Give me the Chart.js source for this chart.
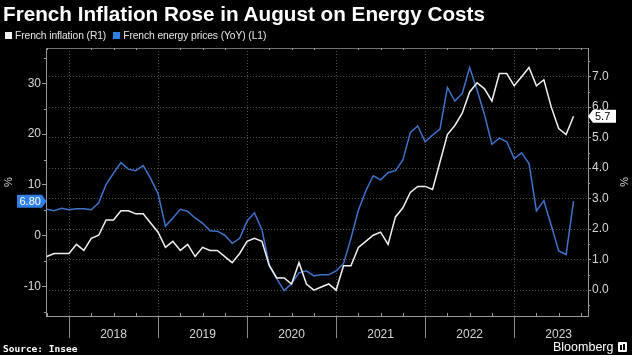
<!DOCTYPE html>
<html><head><meta charset="utf-8">
<script src="https://cdn.jsdelivr.net/npm/chart.js@4"></script>
<style>
html,body{margin:0;padding:0;background:#000;width:632px;height:355px;overflow:hidden;}
#wrap{position:relative;width:632px;height:355px;}
#c{position:absolute;left:0;top:0;}
#title{position:absolute;left:3px;top:2px;font:bold 20.7px "Liberation Sans",Arial,sans-serif;color:#fff;white-space:nowrap;}
#legend{position:absolute;left:5px;top:30px;font:10.3px "Liberation Sans",Arial,sans-serif;color:#e6e6e6;white-space:nowrap;letter-spacing:-0.1px;}
#legend span.it{margin-right:7px;}
.sw{display:inline-block;width:7px;height:7px;margin-right:3px;vertical-align:0px;}
#source{position:absolute;left:3px;top:343px;font:bold 9.5px "DejaVu Sans Mono",monospace;color:#fff;white-space:nowrap;}
#bbg{position:absolute;left:553px;top:340px;font:12.5px "Liberation Sans",Arial,sans-serif;color:#fff;white-space:nowrap;}
#ico{position:absolute;left:618px;top:342px;width:9px;height:10px;background:#fff;border-radius:1px;}
#ico i{position:absolute;left:2px;top:3px;width:2px;height:5px;background:#000;}
#ico b{position:absolute;left:5px;top:2px;width:2px;height:6px;background:#000;}
</style></head>
<body><div id="wrap">
<canvas id="c" width="632" height="355"></canvas>
<div id="title">French Inflation Rose in August on Energy Costs</div>
<div id="legend"><span class="it"><span class="sw" style="background:#f2f2f2"></span>French inflation (R1)</span><span class="it"><span class="sw" style="background:#2f7fe6"></span>French energy prices (YoY) (L1)</span></div>
<div id="source">Source: Insee</div>
<div id="bbg">Bloomberg</div>
<div id="ico"><i></i><b></b></div>
</div>
<script>
// Month-end observations, Sep 2017 .. Aug 2023
const months = [
 '2017-09','2017-10','2017-11','2017-12',
 '2018-01','2018-02','2018-03','2018-04','2018-05','2018-06','2018-07','2018-08','2018-09','2018-10','2018-11','2018-12',
 '2019-01','2019-02','2019-03','2019-04','2019-05','2019-06','2019-07','2019-08','2019-09','2019-10','2019-11','2019-12',
 '2020-01','2020-02','2020-03','2020-04','2020-05','2020-06','2020-07','2020-08','2020-09','2020-10','2020-11','2020-12',
 '2021-01','2021-02','2021-03','2021-04','2021-05','2021-06','2021-07','2021-08','2021-09','2021-10','2021-11','2021-12',
 '2022-01','2022-02','2022-03','2022-04','2022-05','2022-06','2022-07','2022-08','2022-09','2022-10','2022-11','2022-12',
 '2023-01','2023-02','2023-03','2023-04','2023-05','2023-06','2023-07','2023-08'
];
// French inflation, % YoY (right axis)
const inflation = [
 1.1,1.2,1.2,1.2,
 1.5,1.3,1.7,1.8,2.3,2.3,2.6,2.6,2.5,2.5,2.2,1.9,
 1.4,1.6,1.3,1.5,1.1,1.4,1.3,1.3,1.1,0.9,1.2,1.6,
 1.7,1.6,0.8,0.4,0.4,0.2,0.9,0.2,0.0,0.1,0.2,0.0,
 0.8,0.8,1.4,1.6,1.8,1.9,1.5,2.4,2.7,3.2,3.4,3.4,
 3.3,4.2,5.1,5.4,5.8,6.5,6.8,6.6,6.2,7.1,7.1,6.7,
 7.0,7.3,6.7,6.9,6.0,5.3,5.1,5.7
];
// French energy prices, % YoY (left axis)
const energy = [
 5.2,4.9,5.4,5.1,
 5.3,5.3,5.1,6.5,10.1,12.3,14.4,13.1,12.8,13.8,11.3,8.3,
 1.9,3.5,5.2,4.8,3.5,2.5,1.0,0.9,0.1,-1.5,-0.5,2.9,
 4.5,1.2,-5.8,-8.5,-10.8,-9.4,-7.3,-6.9,-7.9,-7.7,-7.7,-6.9,
 -5.5,-0.5,5.0,8.8,11.8,11.0,12.4,12.8,14.9,20.3,21.6,18.5,
 19.8,21.0,29.2,26.5,28.0,33.1,28.7,23.8,18.0,19.2,18.5,15.2,
 16.3,14.2,4.9,6.9,2.0,-3.0,-3.7,6.8
];
const yearLabels = ['2018','2019','2020','2021','2022','2023'];
const leftTicks = [-10,0,10,20,30];
const rightTicks = [0,1,2,3,4,5,6,7];

const boundaries = yearLabels.map(y => months.indexOf(y + '-01') - 1);
const mids = boundaries.map(b => b + 6);
const xTickVals = [];
boundaries.forEach((b,k) => { xTickVals.push(b); xTickVals.push(mids[k]); });
const isB = v => boundaries.indexOf(v) >= 0;

const FONT = 'Liberation Sans, Arial, sans-serif';
const TICKC = '#d6d6d6';
const AXC = '#9a9a9a';
const GRIDC = '#4d4d4d';
const CLEAR = 'rgba(0,0,0,0)';

const extras = {
  id: 'extras',
  beforeDatasetsDraw(chart) {
    const {ctx, chartArea: a, scales} = chart;
    ctx.save();
    ctx.strokeStyle = '#707070';
    ctx.lineWidth = 1;
    ctx.beginPath(); ctx.moveTo(a.left, a.top + 0.5); ctx.lineTo(a.right, a.top + 0.5); ctx.stroke();
    ctx.strokeStyle = AXC;
    ctx.beginPath();
    for (let v = -15; v <= 35; v += 10) {
      const y = Math.round(scales.yL.getPixelForValue(v)) + 0.5;
      ctx.moveTo(a.left - 2, y); ctx.lineTo(a.left, y);
    }
    for (let v = -0.5; v <= 7.5; v += 1) {
      const y = Math.round(scales.yR.getPixelForValue(v)) + 0.5;
      ctx.moveTo(a.right, y); ctx.lineTo(a.right + 2, y);
    }
    for (let q = boundaries[0] - 3; q <= months.length; q += 3) {
      if (isB(q)) continue;
      const x = Math.round(scales.x.getPixelForValue(q)) + 0.5;
      if (x < a.left || x > a.right) continue;
      ctx.moveTo(x, a.bottom); ctx.lineTo(x, a.bottom - 3);
      ctx.moveTo(x, a.top); ctx.lineTo(x, a.top + 2);
    }
    ctx.stroke();
    ctx.restore();
  },
  afterDraw(chart) {
    const {ctx, chartArea: a, scales} = chart;
    const eLast = energy[energy.length - 1];
    const iLast = inflation[inflation.length - 1];
    ctx.save();
    ctx.font = '11px ' + FONT;
    ctx.textBaseline = 'middle';
    let y = scales.yL.getPixelForValue(eLast);
    ctx.fillStyle = '#2f7fe6';
    ctx.beginPath();
    ctx.moveTo(a.left + 0.5, y);
    ctx.lineTo(a.left - 4, y - 6.5);
    ctx.lineTo(17, y - 6.5);
    ctx.lineTo(17, y + 6.5);
    ctx.lineTo(a.left - 4, y + 6.5);
    ctx.closePath(); ctx.fill();
    ctx.fillStyle = '#fff';
    ctx.textAlign = 'left';
    ctx.fillText(eLast.toFixed(2), 19.5, y + 0.5);
    y = scales.yR.getPixelForValue(iLast);
    ctx.fillStyle = '#fff';
    ctx.beginPath();
    ctx.moveTo(a.right, y);
    ctx.lineTo(a.right + 5, y - 6.5);
    ctx.lineTo(a.right + 28, y - 6.5);
    ctx.lineTo(a.right + 28, y + 6.5);
    ctx.lineTo(a.right + 5, y + 6.5);
    ctx.closePath(); ctx.fill();
    ctx.fillStyle = '#000';
    ctx.fillText(iLast.toFixed(1), a.right + 7, y + 0.5);
    ctx.restore();
  }
};

new Chart(document.getElementById('c'), {
  type: 'line',
  data: {
    datasets: [
      { label: 'French inflation (R1)', data: inflation.map((v,i)=>({x:i,y:v})), yAxisID: 'yR',
        borderColor: '#f2f2f2', borderWidth: 1.5, pointRadius: 0, tension: 0 },
      { label: 'French energy prices (YoY) (L1)', data: energy.map((v,i)=>({x:i,y:v})), yAxisID: 'yL',
        borderColor: '#3f72c9', borderWidth: 1.5, pointRadius: 0, tension: 0 }
    ]
  },
  options: {
    responsive: false, animation: false, devicePixelRatio: 1,
    layout: { padding: { top: 48, left: 0, right: 0, bottom: 0 } },
    plugins: { legend: { display: false }, tooltip: { enabled: false }, title: { display: false } },
    scales: {
      x: {
        type: 'linear', position: 'bottom', min: -0.1, max: 72.95,
        afterBuildTicks: s => { s.ticks = xTickVals.map(v => ({ value: v })); },
        afterFit: s => { s.height = 39; },
        grid: {
          lineWidth: 1, tickLength: 22, tickBorderDash: [],
          color: c => (c.tick && isB(c.tick.value)) ? GRIDC : CLEAR,
          tickColor: c => (c.tick && isB(c.tick.value)) ? '#8a8a8a' : CLEAR
        },
        border: { color: AXC, width: 1, dash: [1, 2] },
        ticks: {
          color: TICKC, font: { family: FONT, size: 12 }, padding: -11, maxRotation: 0, autoSkip: false,
          callback: v => { const k = mids.indexOf(v); return k >= 0 ? yearLabels[k] : ''; }
        }
      },
      yL: {
        type: 'linear', position: 'left', min: -15.8, max: 36.95,
        afterBuildTicks: s => { s.ticks = leftTicks.map(v => ({ value: v })); },
        afterFit: s => { s.width = 46; },
        grid: { drawOnChartArea: false, tickLength: 4, tickColor: AXC },
        border: { color: AXC, width: 1 },
        ticks: { color: TICKC, font: { family: FONT, size: 12 }, padding: 1 },
        title: { display: true, text: '%', color: TICKC, font: { family: FONT, size: 11 }, padding: { top: 2, bottom: 0 } }
      },
      yR: {
        type: 'linear', position: 'right', min: -0.85, max: 7.94,
        afterBuildTicks: s => { s.ticks = rightTicks.map(v => ({ value: v })); },
        afterFit: s => { s.width = 44; },
        grid: { drawOnChartArea: true, color: GRIDC, tickLength: 3, tickColor: AXC, tickBorderDash: [] },
        border: { color: AXC, width: 1, dash: [1, 2] },
        ticks: { color: TICKC, font: { family: FONT, size: 12 }, padding: 1, callback: v => v.toFixed(1) },
        title: { display: true, text: '%', color: TICKC, font: { family: FONT, size: 11 }, padding: { top: 2, bottom: 0 } }
      }
    }
  },
  plugins: [extras]
});
</script>
</body></html>
